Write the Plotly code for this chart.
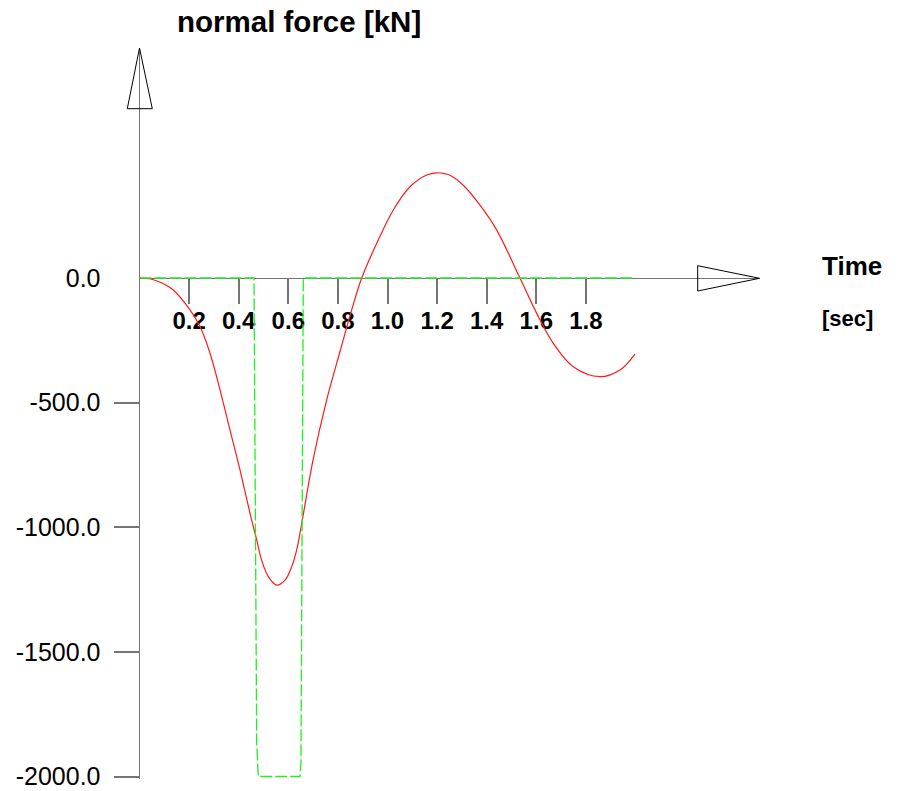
import plotly.graph_objects as go

# ---- data ----
time_red = [0, 0.049, 0.09, 0.136, 0.2036, 0.244, 0.2843, 0.3246, 0.3649, 0.4052, 0.4456,
            0.4726, 0.4927, 0.5194, 0.5532, 0.5867, 0.6137, 0.6339, 0.654, 0.7008, 0.7548,
            0.8085, 0.8556, 0.896, 0.9565, 1.0234, 1.0907, 1.158, 1.198, 1.225, 1.252, 1.3056,
            1.373, 1.44, 1.534, 1.6016, 1.6685, 1.749, 1.857, 1.9375, 1.998]
force_red = [0, -5, -20, -48, -128, -195, -302, -449, -610, -770, -944,
             -1051, -1133, -1198, -1232, -1212, -1158, -1091, -985, -725, -489,
             -295, -128, 0, 139, 273, 366, 413, 422, 420, 412, 372,
             292, 193, 0, -142, -262, -356, -396, -369, -305]

time_green = [0, 0.4617, 0.4726, 0.479, 0.6472, 0.651, 0.6605, 2.0]
force_green = [0, 0, -1865, -2000, -2000, -1950, 0, 0]

x_ticks = [0.2, 0.4, 0.6, 0.8, 1.0, 1.2, 1.4, 1.6, 1.8]
x_ticktext = ["0.2", "0.4", "0.6", "0.8", "1.0", "1.2", "1.4", "1.6", "1.8"]
y_ticks = [-2000, -1500, -1000, -500]
y_labels = [-2000, -1500, -1000, -500, 0]
y_labeltext = ["-2000.0", "-1500.0", "-1000.0", "-500.0", "0.0"]

# ---- geometry (pixels) ----
W, H = 901, 791
X0PX = 139.5          # pixel of t = 0
PX_PER_T = 248.0
Y0PX = 278.0          # pixel of 0 kN
PX_PER_KN = 0.24925
X_END = 2.5           # arrow tip on time axis
Y_TOP_PX = 48.0
Y_BOT_PX = 779.0

y_top = (Y0PX - Y_TOP_PX) / PX_PER_KN
y_bot = -(Y_BOT_PX - Y0PX) / PX_PER_KN

def px(x):
    return x / W

def py(y):
    return 1 - y / H

FONT = "Liberation Sans, Arial, sans-serif"
GRAY = "#757575"

fig = go.Figure()
fig.add_trace(go.Scatter(x=time_red, y=force_red, mode="lines",
                         line=dict(color="#ff1a1a", width=1.2, shape="spline", smoothing=1.0),
                         yaxis="y", hoverinfo="skip"))
fig.add_trace(go.Scatter(x=time_green, y=force_green, mode="lines",
                         line=dict(color="#22ee22", width=1.3, dash="12px,3px"),
                         yaxis="y2", hoverinfo="skip"))

# arrow heads (outlined triangles) at the ends of the axes
shapes = [
    dict(type="path", xref="paper", yref="paper",
         path=f"M {px(127.3)},{py(108.7)} L {px(X0PX)},{py(Y_TOP_PX)} L {px(152.3)},{py(108.7)} Z",
         line=dict(color="black", width=1), fillcolor="rgba(0,0,0,0)"),
    dict(type="path", xref="paper", yref="paper",
         path=f"M {px(697.7)},{py(265.7)} L {px(759.5)},{py(278.3)} L {px(697.7)},{py(291)} Z",
         line=dict(color="black", width=1), fillcolor="rgba(0,0,0,0)"),
]

fig.update_layout(
    width=W, height=H, autosize=False,
    margin=dict(l=0, r=0, t=0, b=0, pad=0, autoexpand=False),
    paper_bgcolor="white", plot_bgcolor="white",
    showlegend=False,
    xaxis=dict(domain=[px(X0PX), px(X0PX + PX_PER_T * X_END)], range=[0, X_END],
               anchor="free", position=py(Y0PX), side="bottom", automargin=False,
               showline=True, linecolor=GRAY, linewidth=1, layer="below traces",
               ticks="outside", ticklen=25, tickwidth=2, tickcolor=GRAY,
               tickvals=x_ticks, ticktext=x_ticktext, ticklabelstandoff=-4,
               tickfont=dict(family=FONT, size=24, color="black", weight="bold"),
               showgrid=False, zeroline=False, fixedrange=True),
    yaxis=dict(domain=[py(Y_BOT_PX), py(Y_TOP_PX)], range=[y_bot, y_top],
               anchor="x", side="left", automargin=False,
               showline=True, linecolor=GRAY, linewidth=1, layer="below traces",
               ticks="", tickvals=y_labels, ticktext=y_labeltext, ticklabelstandoff=33,
               ticklabeloverflow="allow",
               tickfont=dict(family=FONT, size=25, color="black"),
               showgrid=False, zeroline=False, fixedrange=True),
    yaxis2=dict(overlaying="y", range=[y_bot, y_top], anchor="x", side="left", automargin=False,
                showline=False, ticks="outside", ticklen=25, tickwidth=1.5, tickcolor=GRAY,
                tickvals=y_ticks, showticklabels=False, layer="below traces",
                showgrid=False, zeroline=False, fixedrange=True),
    shapes=shapes,
    annotations=[
        dict(text="normal force [kN]", xref="paper", yref="paper", x=px(299), y=py(22),
             xanchor="center", yanchor="middle", showarrow=False,
             font=dict(family=FONT, size=29.5, color="black", weight="bold")),
        dict(text="Time", xref="paper", yref="paper", x=px(820), y=py(266),
             xanchor="left", yanchor="middle", showarrow=False,
             font=dict(family=FONT, size=26, color="black", weight="bold")),
        dict(text="[sec]", xref="paper", yref="paper", x=px(820), y=py(318),
             xanchor="left", yanchor="middle", showarrow=False,
             font=dict(family=FONT, size=22, color="black", weight="bold")),
    ],
)

fig.write_html("out.html")
